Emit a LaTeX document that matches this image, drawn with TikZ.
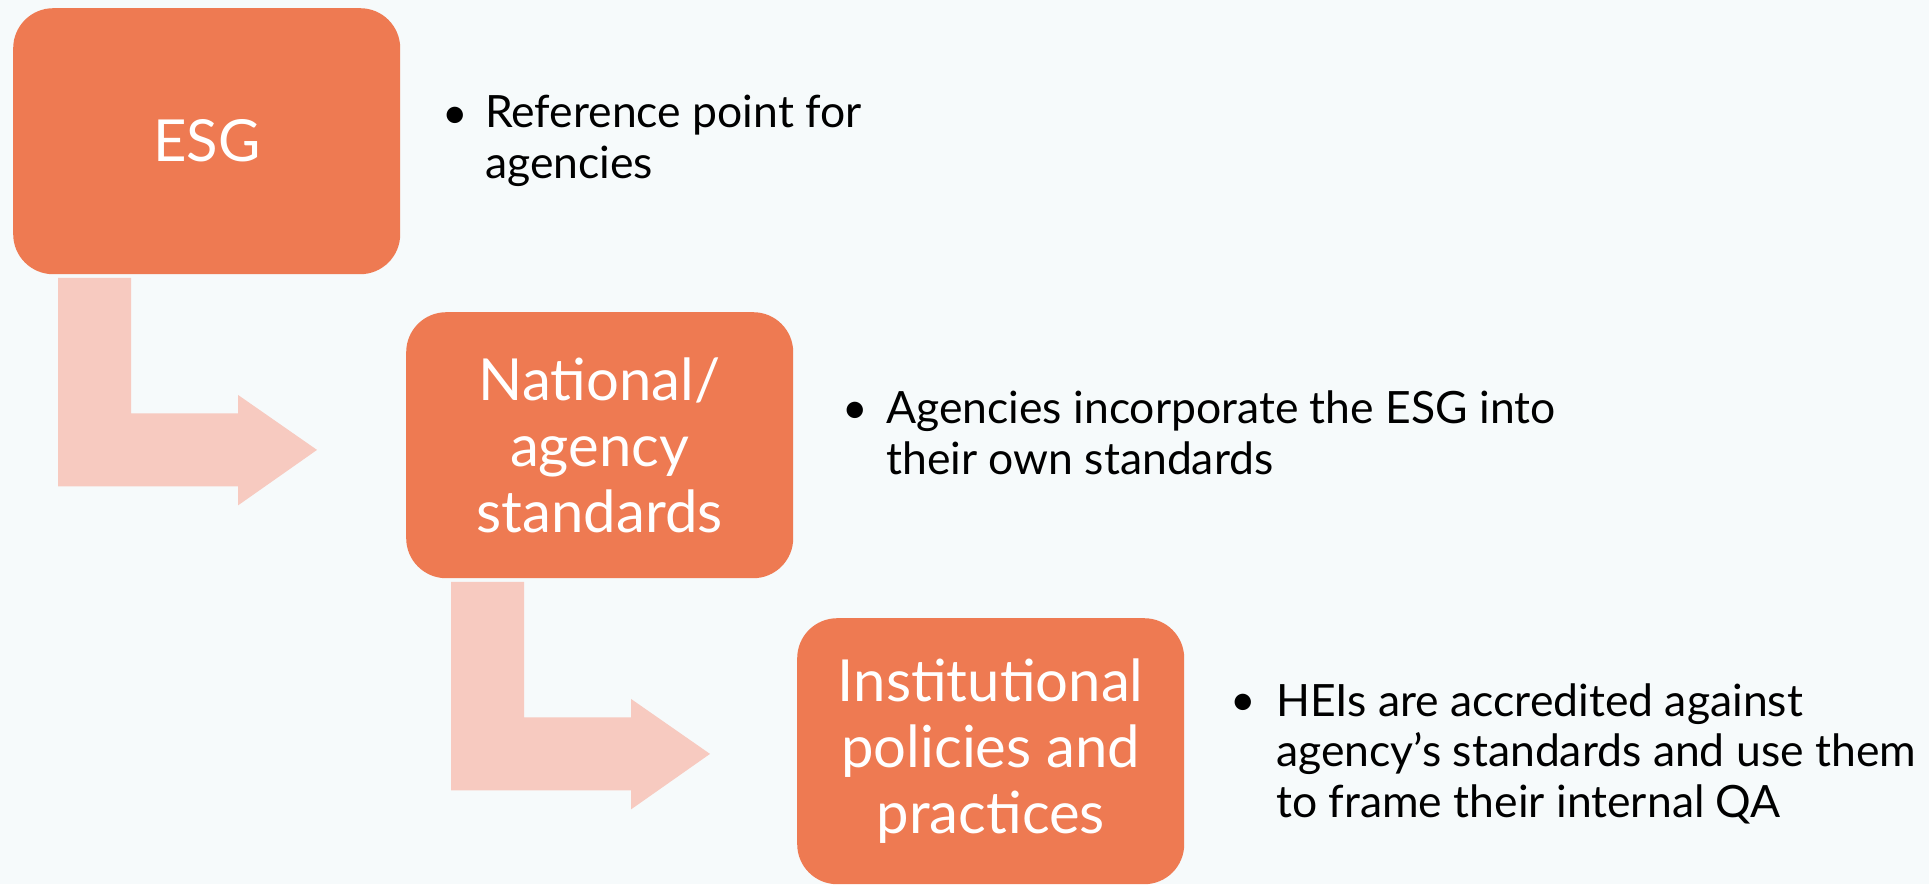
\documentclass[tikz,border=0pt]{standalone}
\usepackage{fontspec}
\setmainfont{Lato}
\definecolor{bgc}{HTML}{F6FAFB}
\definecolor{boxc}{HTML}{EE7A52}
\definecolor{arrc}{HTML}{F7CAC0}
\definecolor{txtc}{HTML}{000000}
\tikzset{
  stepbox/.style={fill=boxc, rounded corners=40pt, minimum width=387pt, minimum height=266pt,
    text=white, align=center, inner sep=0pt, anchor=north west,
    font=\fontsize{58pt}{66pt}\selectfont},
  bullettext/.style={anchor=base west, align=left, inner sep=0pt, text=txtc,
    font=\fontsize{44.5pt}{50.5pt}\selectfont},
  bulletdot/.style={anchor=base, inner sep=0pt, text=txtc, font=\fontsize{44pt}{50pt}\selectfont},
  pics/bent/.style={code={
    \fill[arrc] (45,3.5) -- (118,3.5) -- (118,139) -- (225,139) -- (225,120.5) -- (304,175.5)
      -- (225,231) -- (225,212) -- (45,212) -- cycle;}}
}
\begin{document}
\begin{tikzpicture}[x=1pt,y=-1pt]
\fill[bgc] (0,0) rectangle (1929,884);
\useasboundingbox (0,0) rectangle (1929,884);
% boxes
\node[stepbox] (esg) at (13,8) {ESG};
\node[stepbox] (nat) at (406,312) {National/\\agency\\standards};
\node[stepbox] (inst) at (797,618) {Institutional\\policies and\\practices};
% bent arrows
\pic at (esg.south west) {bent};
\pic at (nat.south west) {bent};
% bullets (text nodes anchored at the baseline of their last line)
\node[bulletdot] (b1) at (455,128) {•};
\node[bullettext] (t1) at (485,178) {Reference point for\\agencies};
\node[bulletdot] (b2) at (855,423) {•};
\node[bullettext] (t2) at (886,474) {Agencies incorporate the ESG into\\their own standards};
\node[bulletdot] (b3) at (1243,715) {•};
\node[bullettext] (t3) at (1276,817) {HEIs are accredited against\\agency’s standards and use them\\to frame their internal QA};
\end{tikzpicture}
\end{document}
